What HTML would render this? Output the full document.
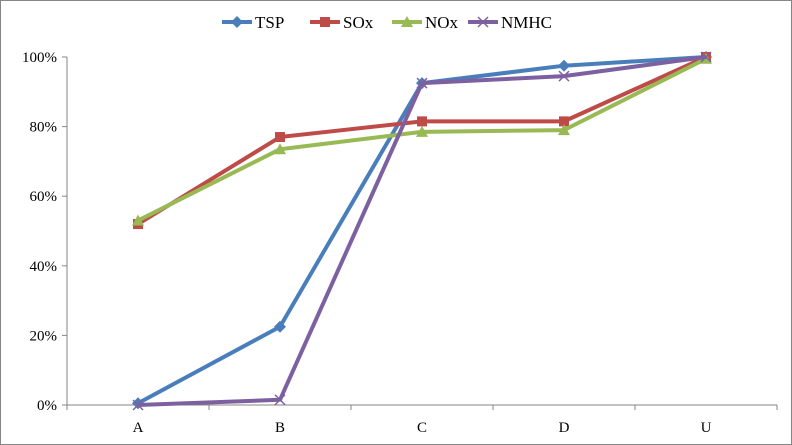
<!DOCTYPE html>
<html><head><meta charset="utf-8">
<style>
html,body{margin:0;padding:0;background:#fff;}
svg{display:block;font-family:"Liberation Serif",serif;}
</style></head>
<body>
<svg id="chart" width="792" height="445" viewBox="0 0 792 445" xmlns="http://www.w3.org/2000/svg">
<rect x="0.5" y="0.5" width="791" height="444" fill="#fff" stroke="#868686"/>
<g id="grid"></g><g id="axes"></g><g id="series"></g><g id="legend"></g>
</svg>
<script>
const categories = ["A","B","C","D","U"];
const seriesNames = ["TSP","SOx","NOx","NMHC"];
const tspValues = [0.5,22.5,92.5,97.5,100];
const soxValues = [52,77,81.5,81.5,100];
const noxValues = [53,73.5,78.5,79,99.5];
const nmhcValues = [0,1.5,92.5,94.5,100];
const yTicks = [0,20,40,60,80,100];
const yTickLabels = ["0%","20%","40%","60%","80%","100%"];

const colors = ["#4a7ebb","#be4b48","#98b954","#7d60a0"];
const allValues = [tspValues,soxValues,noxValues,nmhcValues];
const NS="http://www.w3.org/2000/svg";
const L=67,R=777,T=57,B=405;
const x=i=>L+(R-L)/categories.length*(i+0.5);
const y=v=>B-(B-T)*v/100;
function mk(tag,attrs,parent){const e=document.createElementNS(NS,tag);for(const k in attrs)e.setAttribute(k,attrs[k]);parent.appendChild(e);return e;}
const axes=document.getElementById('axes');
const ax=mk('line',{x1:L,y1:T,x2:L,y2:B,stroke:'#868686'},axes);


const xa=mk('line',{x1:L,y1:B,x2:R,y2:B,stroke:'#868686'},axes);


yTicks.forEach((t,i)=>{
  mk('line',{x1:L-5,y1:y(t),x2:L,y2:y(t),stroke:'#868686'},axes);
  const tx=mk('text',{x:L-10,y:y(t)+5,'text-anchor':'end','font-size':15,fill:'#000'},axes);
  tx.textContent=yTickLabels[i];
  
  
});
for(let i=0;i<=categories.length;i++){const xx=L+(R-L)/categories.length*i;mk('line',{x1:xx,y1:B,x2:xx,y2:B+5,stroke:'#868686'},axes);}
categories.forEach((c,i)=>{
  const tx=mk('text',{x:x(i),y:B+27,'text-anchor':'middle','font-size':15,fill:'#000'},axes);
  tx.textContent=c;
  
  
});
function marker(g,k,cx,cy,col){
  if(k===0) return mk('polygon',{points:`${cx},${cy-6} ${cx+6},${cy} ${cx},${cy+6} ${cx-6},${cy}`,fill:col},g);
  if(k===1) return mk('rect',{x:cx-5,y:cy-5,width:10,height:10,fill:col},g);
  if(k===2) return mk('polygon',{points:`${cx},${cy-6} ${cx+6},${cy+5} ${cx-6},${cy+5}`,fill:col},g);
  return mk('path',{d:`M${cx-5},${cy-5}L${cx+5},${cy+5}M${cx-5},${cy+5}L${cx+5},${cy-5}`,stroke:col,'stroke-width':1.5},g);
}
const sg=document.getElementById('series');
allValues.forEach((vals,k)=>{
  const g=mk('g',{},sg);
  
  
  const ln=mk('polyline',{points:vals.map((v,i)=>x(i)+','+y(v)).join(' '),fill:'none',stroke:colors[k],'stroke-width':4,'stroke-linejoin':'round'},g);
  
  
  vals.forEach((v,i)=>{
    const m=marker(g,k,x(i),y(v),colors[k]);
    
    
  });
});
const lg=document.getElementById('legend');
const lx=[222,310,392,468];
seriesNames.forEach((n,k)=>{
  const g=mk('g',{},lg);
  
  
  mk('line',{x1:lx[k],y1:22,x2:lx[k]+30,y2:22,stroke:colors[k],'stroke-width':4},g);
  marker(g,k,lx[k]+15,22,colors[k]);
  const t=mk('text',{x:lx[k]+33,y:28,'font-size':17,fill:'#000'},g);
  t.textContent=n;
});
</script>
</body></html>
